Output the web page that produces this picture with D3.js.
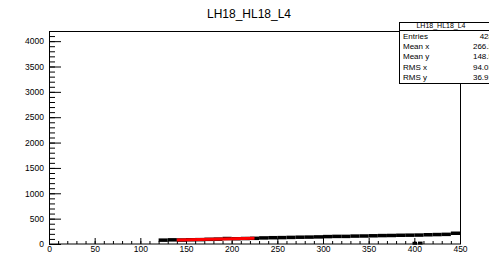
<!DOCTYPE html>
<html>
<head>
<meta charset="utf-8">
<script src="https://cdn.jsdelivr.net/npm/d3@7"></script>
<style>
	body { margin: 0; background: #fff; }
	svg { display: block; font-family: "Liberation Sans", Arial, sans-serif; }
</style>
</head>
<body>
<div id="chart"></div>
<script>
// profile bins (lower edge, width 10), mean y and error
var binLo = [120, 130, 140, 150, 160, 170, 180, 190, 200, 210, 220, 230, 240, 250, 260, 270, 280,
	290, 300, 310, 320, 330, 340, 350, 360, 370, 380, 390, 400, 410, 420, 430, 440];
var binMean = [76, 82, 78, 84, 86, 92, 96, 108, 104, 108, 112, 120, 124, 126, 130, 134, 136,
	140, 146, 150, 150, 156, 158, 162, 166, 168, 172, 174, 176, 182, 186, 190, 212];
var binErr = [12, 10, 8, 8, 8, 8, 8, 10, 8, 8, 8, 8, 8, 8, 8, 8, 8,
	8, 8, 8, 8, 8, 8, 8, 8, 8, 8, 8, 8, 8, 8, 8, 10];
// a couple of low bins near 400
var lowX = [398, 404];
var lowY = [14, 18];
// red pol1 fit
var fitX = [140, 225];
var fitY = [80, 114];

var xTicks = [0, 50, 100, 150, 200, 250, 300, 350, 400, 450];
var yTicks = [0, 500, 1000, 1500, 2000, 2500, 3000, 3500, 4000];

var statNames = ["Entries", "Mean x", "Mean y", "RMS x", "RMS y"];
var statValues = ["428", "266.2", "148.5", "94.03", "36.91"];
var title = "LH18_HL18_L4";

var width = 489, height = 254;
var svg = d3.select("#chart").append("svg")
	.attr("width", width)
	.attr("height", height);

var x = d3.scaleLinear().domain([0, 450]).range([49, 460]);
var y = d3.scaleLinear().domain([0, 4200]).range([244, 31]);

svg.append("text")
	.attr("x", 249)
	.attr("y", 18)
	.attr("text-anchor", "middle")
	.attr("font-size", "12px")
	.text(title);

// minor ticks
svg.append("g")
	.attr("transform", "translate(0,244)")
	.call(d3.axisBottom(x).tickValues(d3.range(0, 451, 10)).tickSize(-3).tickFormat(""))
	.call(function(g) { g.select(".domain").remove(); });
svg.append("g")
	.attr("transform", "translate(49,0)")
	.call(d3.axisLeft(y).tickValues(d3.range(0, 4201, 100)).tickSize(-6).tickFormat(""))
	.call(function(g) { g.select(".domain").remove(); });

// major ticks + labels
var xa = svg.append("g")
	.attr("transform", "translate(0,244)")
	.call(d3.axisBottom(x).tickValues(xTicks).tickSize(-6).tickPadding(2).tickFormat(d3.format("d")));
xa.select(".domain").remove();
xa.selectAll("text").attr("font-size", "8.5px").attr("font-family", "Liberation Sans, Arial, sans-serif");

var ya = svg.append("g")
	.attr("transform", "translate(49,0)")
	.call(d3.axisLeft(y).tickValues(yTicks).tickSize(-12).tickPadding(5).tickFormat(d3.format("d")));
ya.select(".domain").remove();
ya.selectAll("text").attr("font-size", "8.5px").attr("font-family", "Liberation Sans, Arial, sans-serif");

svg.selectAll(".tick line").attr("stroke", "#000");

// frame
svg.append("rect")
	.attr("x", 49.5).attr("y", 31.5)
	.attr("width", 411).attr("height", 212.5)
	.attr("fill", "none")
	.attr("stroke", "#000");

// profile points
var bins = svg.append("g");
for (var i = 0; i < binLo.length; i++) {
	bins.append("line")
		.attr("x1", x(binLo[i])).attr("x2", x(binLo[i] + 10))
		.attr("y1", y(binMean[i])).attr("y2", y(binMean[i]))
		.attr("stroke", "#000").attr("stroke-width", 3.5);
	bins.append("line")
		.attr("x1", x(binLo[i] + 5)).attr("x2", x(binLo[i] + 5))
		.attr("y1", y(binMean[i] - binErr[i])).attr("y2", y(binMean[i] + binErr[i]))
		.attr("stroke", "#000").attr("stroke-width", 2);
}
for (var j = 0; j < lowX.length; j++) {
	bins.append("line")
		.attr("x1", x(lowX[j])).attr("x2", x(lowX[j] + 5))
		.attr("y1", y(lowY[j])).attr("y2", y(lowY[j]))
		.attr("stroke", "#000").attr("stroke-width", 3);
}

// fit
svg.append("line")
	.attr("x1", x(fitX[0])).attr("x2", x(fitX[1]))
	.attr("y1", y(fitY[0])).attr("y2", y(fitY[1]))
	.attr("stroke", "#ff0000").attr("stroke-width", 3);

// stats box
var st = svg.append("g");
st.append("rect")
	.attr("x", 399.5).attr("y", 22.5)
	.attr("width", 92).attr("height", 61)
	.attr("fill", "#fff").attr("stroke", "#000");
st.append("line")
	.attr("x1", 399.5).attr("x2", 492)
	.attr("y1", 30.5).attr("y2", 30.5)
	.attr("stroke", "#000");
st.append("text")
	.attr("x", 441).attr("y", 28)
	.attr("text-anchor", "middle")
	.attr("font-size", "7px")
	.text(title);
for (var k = 0; k < statNames.length; k++) {
	st.append("text")
		.attr("x", 403).attr("y", 39 + k * 10.2)
		.attr("font-size", "8px")
		.text(statNames[k]);
	st.append("text")
		.attr("x", 493).attr("y", 39 + k * 10.2)
		.attr("text-anchor", "end")
		.attr("font-size", "8px")
		.text(statValues[k]);
}
</script>
</body>
</html>
